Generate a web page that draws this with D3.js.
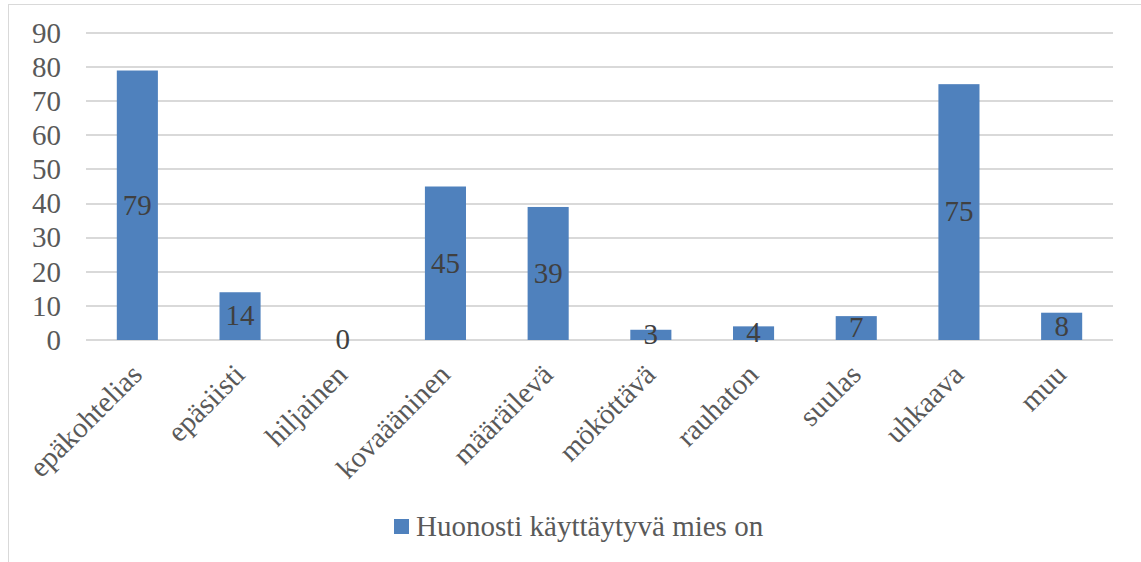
<!doctype html>
<html>
<head>
<meta charset="utf-8">
<script src="https://d3js.org/d3.v7.min.js"></script>
<style>
  body { margin: 0; background: #fff; }
</style>
</head>
<body>
<script>
// chart data
var categories = ['epäkohtelias', 'epäsiisti', 'hiljainen', 'kovaääninen', 'määräilevä',
                  'mököttävä', 'rauhaton', 'suulas', 'uhkaava', 'muu'];
var values = [79, 14, 0, 45, 39, 3, 4, 7, 75, 8];
var yTicks = [0, 10, 20, 30, 40, 50, 60, 70, 80, 90];
var seriesName = 'Huonosti käyttäytyvä mies on';

var width = 1141, height = 562;
var plotLeft = 86, plotRight = 1113, plotTop = 33, plotBottom = 340;
var barColor = '#4f81bd';
var serif = '"Liberation Serif", "Times New Roman", serif';
var fontSize = '29px';

var svg = d3.select('body').append('svg')
    .attr('width', width)
    .attr('height', height)
    .style('font-family', serif);

// outer chart border
svg.append('rect')
    .attr('x', 8.5).attr('y', 4.5)
    .attr('width', width - 4).attr('height', height + 4)
    .attr('fill', 'none')
    .attr('stroke', '#d9d9d9');

var x = d3.scaleBand()
    .domain(categories)
    .range([plotLeft, plotRight])
    .paddingInner(0.6)
    .paddingOuter(0.3);

var y = d3.scaleLinear()
    .domain([0, 90])
    .range([plotBottom, plotTop]);

// gridlines
svg.append('g')
    .selectAll('line')
    .data(yTicks)
    .enter().append('line')
    .attr('x1', plotLeft).attr('x2', plotRight)
    .attr('y1', function(d) { return Math.round(y(d)); })
    .attr('y2', function(d) { return Math.round(y(d)); })
    .attr('stroke', '#d9d9d9')
    .attr('stroke-width', 2);

// y axis labels
var yAxis = d3.axisLeft(y).tickValues(yTicks).tickSize(0).tickPadding(0);
var yG = svg.append('g')
    .attr('transform', 'translate(' + (plotLeft - 25) + ',0)')
    .call(yAxis);
yG.attr('font-family', null).attr('font-size', null);
yG.select('.domain').remove();
yG.selectAll('text')
    .attr('fill', '#595959')
    .style('font-family', serif)
    .style('font-size', fontSize)
    .attr('dy', '0.32em');

// bars
svg.append('g')
    .selectAll('rect')
    .data(values)
    .enter().append('rect')
    .attr('x', function(d, i) { return x(categories[i]); })
    .attr('y', function(d) { return y(d); })
    .attr('width', x.bandwidth())
    .attr('height', function(d) { return y(0) - y(d); })
    .attr('fill', barColor);

// data labels centered in bars
svg.append('g')
    .selectAll('text')
    .data(values)
    .enter().append('text')
    .attr('x', function(d, i) { return x(categories[i]) + x.bandwidth() / 2; })
    .attr('y', function(d) { return (y(d) + y(0)) / 2; })
    .attr('dy', '0.32em')
    .attr('text-anchor', 'middle')
    .attr('fill', '#404040')
    .style('font-size', fontSize)
    .text(function(d) { return d; });

// x axis labels, rotated
svg.append('g')
    .selectAll('text')
    .data(categories)
    .enter().append('text')
    .attr('transform', function(d) {
        return 'translate(' + (x(d) + x.bandwidth() / 2 - 8) + ',' + (plotBottom + 22) + ') rotate(-45)';
    })
    .attr('text-anchor', 'end')
    .attr('dy', '0.7em')
    .attr('fill', '#595959')
    .style('font-size', fontSize)
    .text(function(d) { return d; });

// legend
var legend = svg.append('g').attr('transform', 'translate(394,519)');
legend.append('rect')
    .attr('width', 15).attr('height', 15)
    .attr('fill', barColor);
legend.append('text')
    .attr('x', 22).attr('y', 8)
    .attr('dy', '0.32em')
    .attr('fill', '#595959')
    .style('font-size', fontSize)
    .text(seriesName);
</script>
</body>
</html>
